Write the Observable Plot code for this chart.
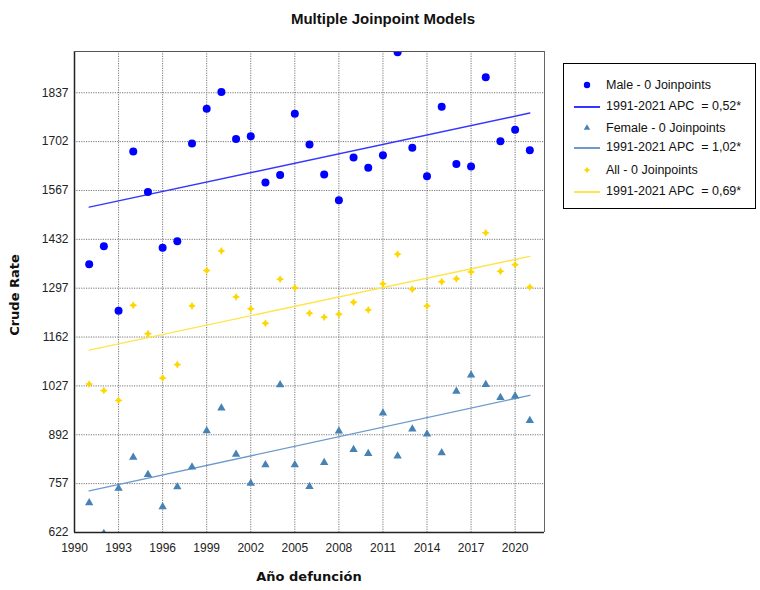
<!DOCTYPE html>
<html>
<head>
<meta charset="utf-8">
<script src="https://cdn.jsdelivr.net/npm/d3@7"></script>
<script src="https://cdn.jsdelivr.net/npm/@observablehq/plot@0.6"></script>
<style>
  html, body { margin: 0; padding: 0; background: #fff; }
  #wrap { position: relative; width: 760px; height: 590px; font-family: "Liberation Sans", Arial, sans-serif; }
  #chart { position: absolute; left: 0; top: 0; }
  #title { position: absolute; left: 0; width: 766px; top: 10px; text-align: center; font: bold 15px "Liberation Sans", Arial, sans-serif; color: #111; }
  #xlab { position: absolute; left: 74px; width: 470px; top: 569px; text-align: center; font: bold 13px "DejaVu Sans", sans-serif; color: #111; }
  #ylab { position: absolute; left: 14px; top: 295px; transform: translate(-50%, -50%) rotate(-90deg); font: bold 13px "DejaVu Sans", sans-serif; color: #111; white-space: nowrap; }
  #legend { position: absolute; left: 563px; top: 63px; width: 193px; height: 146px; border: 1px solid #000; box-sizing: border-box; }
  .row { position: absolute; left: 0; height: 20px; width: 190px; }
  .row svg { position: absolute; left: 8px; top: 0; }
  .row span { position: absolute; left: 42px; top: 2px; font: 12.5px "Liberation Sans", Arial, sans-serif; color: #111; white-space: pre; }
</style>
</head>
<body>
<div id="wrap">
  <div id="chart"></div>
  <div id="title">Multiple Joinpoint Models</div>
  <div id="xlab">Año defunción</div>
  <div id="ylab">Crude Rate</div>
  <div id="legend"></div>
</div>
<script>
const years = [1991,1992,1993,1994,1995,1996,1997,1998,1999,2000,2001,2002,2003,2004,2005,2006,2007,2008,2009,2010,2011,2012,2013,2014,2015,2016,2017,2018,2019,2020,2021];
const male   = [1363,1413,1235,1675,1563,1409,1427,1697,1793,1839,1709,1717,1589,1610,1779,1694,1611,1540,1658,1630,1664,1949,1685,1606,1798,1640,1633,1880,1703,1735,1678];
const female = [704,619,744,830,782,693,748,803,903,966,838,758,809,1030,809,749,815,902,851,840,952,833,908,894,842,1012,1057,1031,995,999,931];
const all    = [1032,1014,987,1250,1171,1049,1086,1248,1346,1400,1273,1240,1200,1322,1298,1228,1217,1225,1258,1237,1309,1391,1294,1248,1315,1323,1342,1450,1344,1362,1300];

const trendYears  = [1991, 2021];
const maleTrend   = [1521, 1781];
const femaleTrend = [737, 1001];
const allTrend    = [1126, 1385];

const xTicks = [1990,1993,1996,1999,2002,2005,2008,2011,2014,2017,2020];
const yTicks = [622,757,892,1027,1162,1297,1432,1567,1702,1837];

const seriesNames = ["Male - 0 Joinpoints","1991-2021 APC  = 0,52*","Female - 0 Joinpoints","1991-2021 APC  = 1,02*","All - 0 Joinpoints","1991-2021 APC  = 0,69*"];

const C = {male:"#0000ff", maleLine:"#3535ff", female:"#4682b4", femaleLine:"#6d9acb", all:"#ffd700", allLine:"#ffe44a"};

const star4 = {
  draw(ctx, size) {
    const r = Math.sqrt(size / Math.PI);
    const k = r * 0.36;
    ctx.moveTo(0, -r); ctx.lineTo(k, -k); ctx.lineTo(r, 0); ctx.lineTo(k, k);
    ctx.lineTo(0, r); ctx.lineTo(-k, k); ctx.lineTo(-r, 0); ctx.lineTo(-k, -k); ctx.closePath();
  }
};

const pts = (vals) => years.map((y, i) => ({year: y, v: vals[i]}));
const tr = (vals) => trendYears.map((y, i) => ({year: y, v: vals[i]}));

const chart = Plot.plot({
  width: 760, height: 590,
  marginLeft: 74, marginRight: 216, marginTop: 51, marginBottom: 58,
  style: {fontFamily: "Liberation Sans, Arial, sans-serif", fontSize: "12px", color: "#222", background: "transparent"},
  x: {domain: [1990, 2022], ticks: xTicks, tickFormat: d => String(d), tickSize: 0, tickPadding: 11, label: null},
  y: {domain: [622, 1951], ticks: yTicks, tickFormat: d => String(d), tickSize: 0, tickPadding: 6, label: null},
  marks: [
    Plot.gridX(xTicks, {stroke: "#777", strokeOpacity: 1, strokeDasharray: "1.2,1.2"}),
    Plot.gridY(yTicks, {stroke: "#777", strokeOpacity: 1, strokeDasharray: "1.2,1.2"}),
    Plot.axisX(xTicks, {tickFormat: d => String(d), tickSize: 0, tickPadding: 11, fill: "#222"}),
    Plot.axisY(yTicks, {tickFormat: d => String(d), tickSize: 0, tickPadding: 6, fill: "#222"}),
    Plot.line(tr(maleTrend), {x: "year", y: "v", stroke: C.maleLine, strokeWidth: 1.4}),
    Plot.line(tr(femaleTrend), {x: "year", y: "v", stroke: C.femaleLine, strokeWidth: 1.4}),
    Plot.line(tr(allTrend), {x: "year", y: "v", stroke: C.allLine, strokeWidth: 1.4}),
    Plot.dot(pts(male), {x: "year", y: "v", r: 4, fill: C.male, symbol: "circle", clip: true}),
    Plot.dot(pts(female), {x: "year", y: "v", r: 3.1, fill: C.female, symbol: "triangle", clip: true}),
    Plot.dot(pts(all), {x: "year", y: "v", r: 4, fill: C.all, symbol: star4, clip: true}),
    Plot.ruleX([1990], {stroke: "#222", strokeWidth: 1.5}),
    Plot.ruleY([622], {stroke: "#222", strokeWidth: 1.5}),
    Plot.ruleX([2022], {stroke: "#666", strokeWidth: 1}),
    Plot.ruleY([1951], {stroke: "#555", strokeWidth: 1})
  ]
});
document.getElementById("chart").appendChild(chart);

// Legend
const legend = document.getElementById("legend");
const rowsTop = [12, 33, 55, 74, 97, 118];
const kinds = [
  {t: "dot", c: C.male, sym: d3.symbolCircle, s: Math.PI * 3.2 * 3.2},
  {t: "line", c: C.maleLine},
  {t: "dot", c: C.female, sym: d3.symbolTriangle, s: Math.PI * 2.4 * 2.4},
  {t: "line", c: C.femaleLine},
  {t: "dot", c: C.all, sym: star4, s: Math.PI * 3.3 * 3.3},
  {t: "line", c: C.allLine}
];
seriesNames.forEach((name, i) => {
  const row = document.createElement("div");
  row.className = "row";
  row.style.top = rowsTop[i] + "px";
  const svg = d3.create("svg").attr("width", 30).attr("height", 20);
  const k = kinds[i];
  if (k.t === "dot") {
    svg.append("path").attr("d", d3.symbol(k.sym, k.s)()).attr("transform", "translate(15,9)").attr("fill", k.c);
  } else {
    svg.append("line").attr("x1", 2).attr("x2", 28).attr("y1", 10).attr("y2", 10).attr("stroke", k.c).attr("stroke-width", 2);
  }
  row.appendChild(svg.node());
  const sp = document.createElement("span");
  sp.textContent = name;
  row.appendChild(sp);
  legend.appendChild(row);
});
</script>
</body>
</html>
